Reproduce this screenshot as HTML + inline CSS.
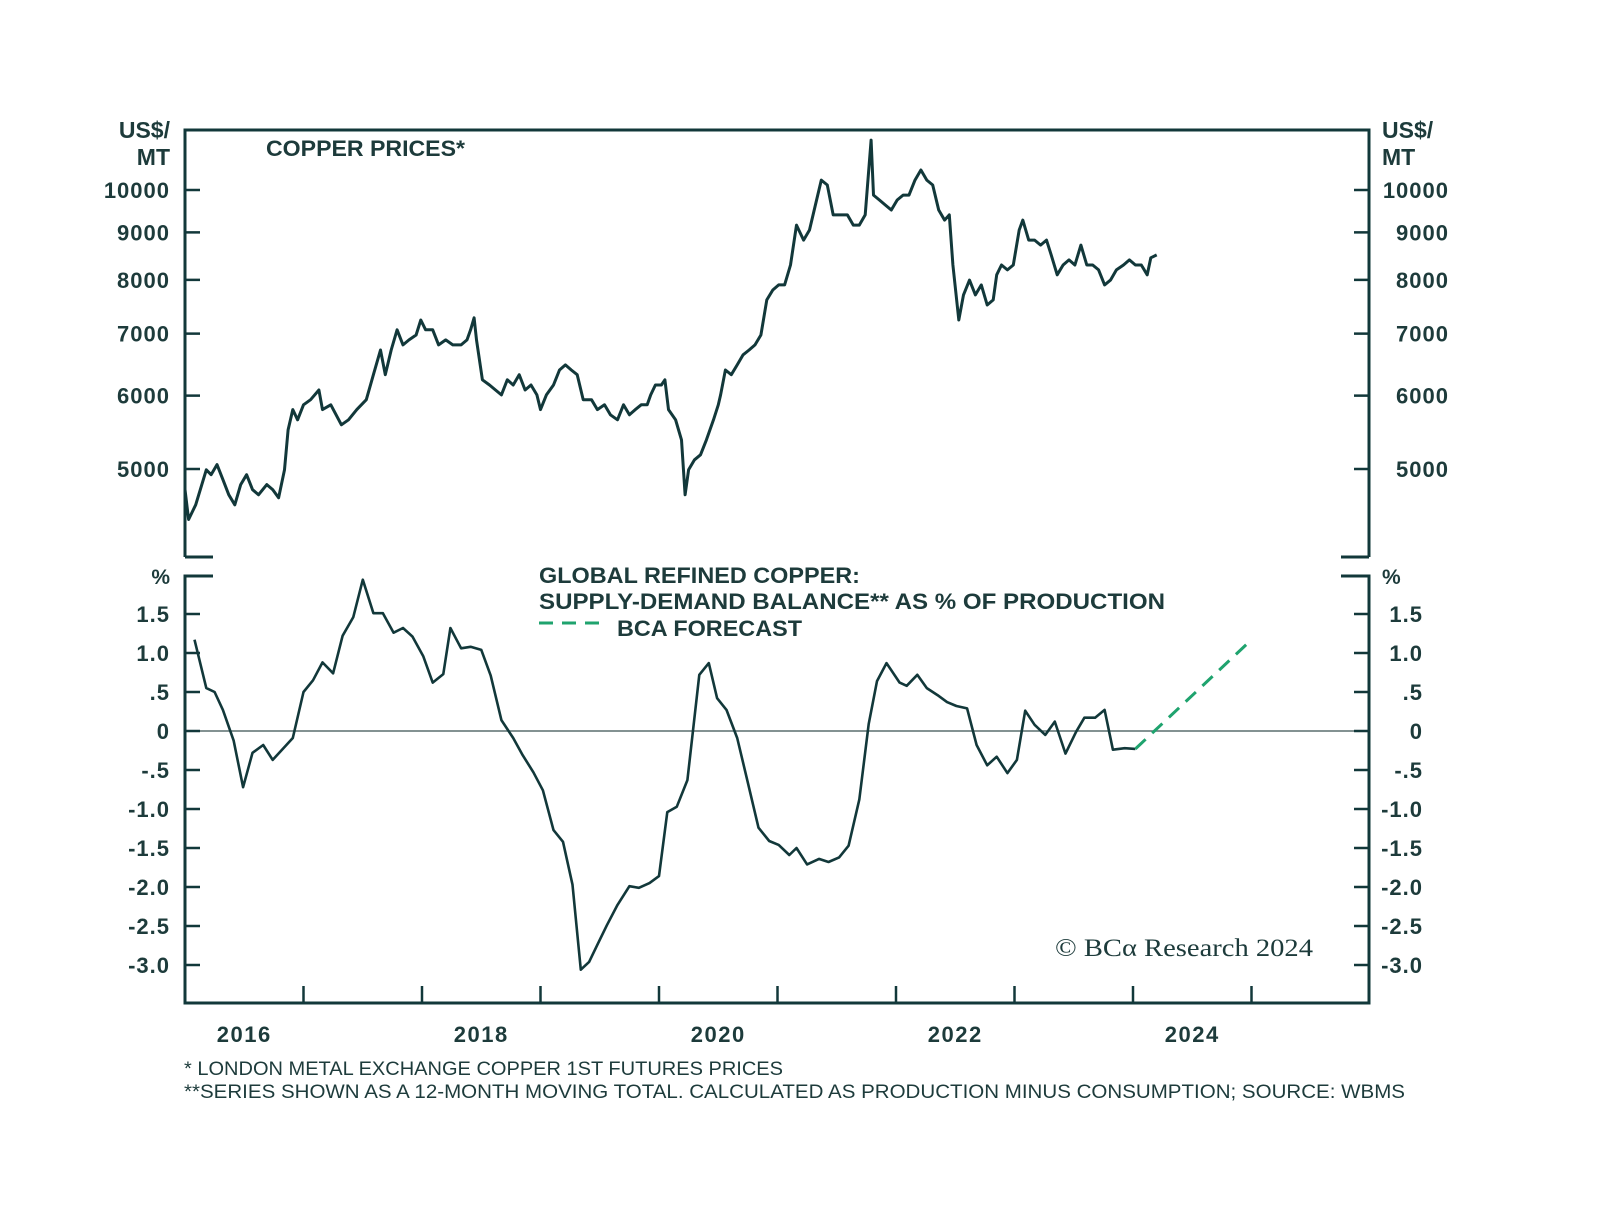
<!DOCTYPE html>
<html><head><meta charset="utf-8">
<style>
html,body{margin:0;padding:0;background:#fff;}
svg{display:block;}
text{font-family:"Liberation Sans",sans-serif;fill:#1d3b3b;font-weight:bold;}
</style></head>
<body>
<svg id="chart" width="1600" height="1232" viewBox="0 0 1600 1232" xmlns="http://www.w3.org/2000/svg">
<g id="frame"></g>
<g id="axes"></g>
<g id="series"></g>
<text x="266" y="156" font-size="22" textLength="199" lengthAdjust="spacingAndGlyphs">COPPER PRICES*</text>
<text x="170" y="138" font-size="23" text-anchor="end">US$/</text>
<text x="170" y="165" font-size="23" text-anchor="end">MT</text>
<text x="1382" y="138" font-size="23">US$/</text>
<text x="1382" y="165" font-size="23">MT</text>
<text x="170" y="584" font-size="21" text-anchor="end">%</text>
<text x="1382" y="584" font-size="21">%</text>
<text x="539" y="583" font-size="22" textLength="321" lengthAdjust="spacingAndGlyphs">GLOBAL REFINED COPPER:</text>
<text x="539" y="609" font-size="22" textLength="626" lengthAdjust="spacingAndGlyphs">SUPPLY-DEMAND BALANCE** AS % OF PRODUCTION</text>
<line x1="539" y1="623" x2="608" y2="623" stroke="#1fa36e" stroke-width="3" stroke-dasharray="14,9"/>
<text x="617" y="636" font-size="22" textLength="185" lengthAdjust="spacingAndGlyphs">BCA FORECAST</text>
<text x="1055" y="956" font-size="25" textLength="258" lengthAdjust="spacingAndGlyphs" style="font-family:'Liberation Serif',serif;font-weight:normal">© BCα Research 2024</text>
<text x="184" y="1075" font-size="19" textLength="599" lengthAdjust="spacingAndGlyphs" style="font-weight:normal">* LONDON METAL EXCHANGE COPPER 1ST FUTURES PRICES</text>
<text x="184" y="1098" font-size="19" textLength="1221" lengthAdjust="spacingAndGlyphs" style="font-weight:normal">**SERIES SHOWN AS A 12-MONTH MOVING TOTAL. CALCULATED AS PRODUCTION MINUS CONSUMPTION; SOURCE: WBMS</text>
</svg>
<script>
const priceDates=[2016.00,2016.03,2016.09,2016.18,2016.22,2016.27,2016.32,2016.37,2016.42,2016.47,2016.52,2016.57,2016.62,2016.69,2016.74,2016.79,2016.84,2016.87,2016.91,2016.95,2017.00,2017.06,2017.13,2017.16,2017.23,2017.32,2017.38,2017.45,2017.53,2017.59,2017.65,2017.69,2017.74,2017.79,2017.84,2017.89,2017.95,2017.99,2018.03,2018.09,2018.14,2018.20,2018.26,2018.33,2018.38,2018.41,2018.44,2018.46,2018.51,2018.57,2018.62,2018.67,2018.72,2018.77,2018.82,2018.87,2018.92,2018.97,2019.00,2019.05,2019.11,2019.16,2019.21,2019.26,2019.31,2019.36,2019.43,2019.48,2019.54,2019.59,2019.65,2019.70,2019.75,2019.80,2019.85,2019.90,2019.93,2019.97,2020.02,2020.05,2020.08,2020.14,2020.19,2020.22,2020.25,2020.30,2020.35,2020.40,2020.46,2020.50,2020.52,2020.56,2020.61,2020.66,2020.71,2020.76,2020.81,2020.86,2020.91,2020.96,2021.01,2021.06,2021.11,2021.16,2021.22,2021.27,2021.32,2021.37,2021.42,2021.47,2021.54,2021.59,2021.64,2021.69,2021.74,2021.79,2021.81,2021.86,2021.91,2021.96,2022.01,2022.06,2022.11,2022.16,2022.21,2022.26,2022.31,2022.36,2022.41,2022.45,2022.48,2022.53,2022.57,2022.62,2022.67,2022.72,2022.77,2022.82,2022.85,2022.89,2022.94,2022.99,2023.04,2023.07,2023.12,2023.17,2023.22,2023.27,2023.31,2023.36,2023.41,2023.46,2023.51,2023.56,2023.61,2023.66,2023.71,2023.76,2023.81,2023.86,2023.92,2023.97,2024.02,2024.07,2024.12,2024.15,2024.20];
const priceValues=[4750,4410,4575,4990,4930,5055,4870,4690,4575,4810,4930,4750,4690,4810,4750,4655,4990,5510,5795,5650,5865,5940,6085,5795,5865,5580,5650,5795,5940,6320,6720,6320,6720,7065,6805,6890,6975,7240,7065,7065,6805,6890,6805,6805,6890,7065,7280,6890,6240,6160,6085,6010,6240,6160,6320,6085,6160,6010,5795,6010,6160,6395,6475,6395,6320,5940,5940,5795,5865,5720,5650,5865,5720,5795,5865,5865,6010,6160,6160,6240,5795,5650,5375,4690,4990,5115,5180,5375,5650,5865,6010,6395,6320,6475,6640,6720,6805,6975,7610,7800,7900,7900,8300,9165,8830,9055,9635,10250,10125,9400,9400,9400,9165,9165,9400,11320,9875,9755,9635,9515,9755,9875,9875,10250,10510,10250,10125,9515,9280,9400,8300,7240,7705,7995,7705,7900,7515,7610,8100,8300,8200,8300,9055,9280,8830,8830,8720,8830,8510,8100,8300,8405,8300,8720,8300,8300,8200,7900,7995,8200,8300,8405,8300,8300,8100,8450,8510];
const balDates=[2016.08,2016.18,2016.25,2016.32,2016.41,2016.49,2016.57,2016.66,2016.74,2016.83,2016.91,2017.00,2017.08,2017.16,2017.25,2017.33,2017.42,2017.50,2017.59,2017.67,2017.76,2017.84,2017.92,2018.01,2018.09,2018.18,2018.24,2018.33,2018.41,2018.50,2018.58,2018.67,2018.77,2018.85,2018.94,2019.02,2019.11,2019.19,2019.27,2019.34,2019.41,2019.48,2019.56,2019.65,2019.75,2019.83,2019.92,2020.00,2020.07,2020.15,2020.24,2020.34,2020.42,2020.49,2020.57,2020.66,2020.74,2020.84,2020.93,2021.01,2021.10,2021.16,2021.25,2021.35,2021.43,2021.52,2021.60,2021.69,2021.77,2021.84,2021.92,2022.03,2022.09,2022.18,2022.26,2022.35,2022.43,2022.51,2022.60,2022.68,2022.77,2022.85,2022.94,2023.02,2023.09,2023.17,2023.26,2023.34,2023.43,2023.52,2023.59,2023.68,2023.76,2023.83,2023.93,2024.02];
const balValues=[1.17,0.55,0.50,0.27,-0.12,-0.72,-0.28,-0.18,-0.37,-0.22,-0.09,0.50,0.65,0.88,0.74,1.22,1.46,1.94,1.51,1.51,1.26,1.32,1.21,0.96,0.62,0.73,1.32,1.06,1.08,1.04,0.71,0.14,-0.09,-0.31,-0.53,-0.76,-1.27,-1.42,-1.97,-3.06,-2.96,-2.74,-2.49,-2.23,-1.99,-2.01,-1.95,-1.86,-1.04,-0.97,-0.63,0.72,0.87,0.42,0.27,-0.09,-0.60,-1.24,-1.41,-1.46,-1.59,-1.50,-1.71,-1.64,-1.68,-1.62,-1.47,-0.88,0.09,0.64,0.87,0.62,0.58,0.72,0.55,0.46,0.37,0.32,0.29,-0.18,-0.44,-0.33,-0.54,-0.37,0.26,0.08,-0.05,0.12,-0.29,-0.01,0.17,0.17,0.27,-0.24,-0.22,-0.23];
const forecastDates=[2024.02,2025.00];
const forecastValues=[-0.23,1.17];
const priceTicks=[5000,6000,7000,8000,9000,10000];
const balTicks=[1.5,1.0,0.5,0,-0.5,-1.0,-1.5,-2.0,-2.5,-3.0];
const balTickLabels=["1.5","1.0",".5","0","-.5","-1.0","-1.5","-2.0","-2.5","-3.0"];
const yearTicks=[2017,2018,2019,2020,2021,2022,2023,2024,2025];
const yearLabels=[2016,2018,2020,2022,2024];

const L=185,R=1369,TOP=130,UB=557,LT=576,BOT=1003;
const C="#12383a";
const X=t=>L+(t-2016)*118.5;
const YP=v=>190-Math.log2(v/10000)*279;
const YB=v=>731-v*78;
const NS="http://www.w3.org/2000/svg";
function mk(tag,attrs,parent){const e=document.createElementNS(NS,tag);for(const k in attrs)e.setAttribute(k,attrs[k]);document.getElementById(parent).appendChild(e);return e;}

let e;
e=mk('path',{d:`M${L},${UB} V${TOP} H${R} V${UB}`,fill:'none',stroke:C,'stroke-width':3},'frame');


e=mk('path',{d:`M${L+28},${UB} H${L} M${R-28},${UB} H${R}`,fill:'none',stroke:C,'stroke-width':3},'frame');


e=mk('path',{d:`M${L+28},${LT} H${L} V${BOT} H${R} V${LT} H${R-28}`,fill:'none',stroke:C,'stroke-width':3},'frame');


e=mk('line',{x1:L,x2:R,y1:YB(0),y2:YB(0),stroke:'#5a6e6e','stroke-width':1.5},'frame');



priceTicks.forEach(v=>{
  const y=YP(v);
  e=mk('path',{d:`M${L},${y} h15 M${R},${y} h-15`,stroke:C,'stroke-width':2.5},'axes');
  
  
  e=mk('text',{x:170,y:y+8,'font-size':22,'letter-spacing':1,'text-anchor':'end'},'axes');e.textContent=v;
  
  
  e=mk('text',{x:1449,y:y+8,'font-size':22,'letter-spacing':1,'text-anchor':'end'},'axes');e.textContent=v;
  
  
});
balTicks.forEach((v,i)=>{
  const y=YB(v);
  e=mk('path',{d:`M${L},${y} h15 M${R},${y} h-15`,stroke:C,'stroke-width':2.5},'axes');
  
  
  e=mk('text',{x:170,y:y+8,'font-size':22,'letter-spacing':1,'text-anchor':'end'},'axes');e.textContent=balTickLabels[i];
  
  
  e=mk('text',{x:1423,y:y+8,'font-size':22,'letter-spacing':1,'text-anchor':'end'},'axes');e.textContent=balTickLabels[i];
  
  
});
yearTicks.forEach(t=>{
  e=mk('line',{x1:X(t),x2:X(t),y1:BOT,y2:BOT-17,stroke:C,'stroke-width':2.5},'axes');
  
  
});
yearLabels.forEach(t=>{
  e=mk('text',{x:X(t+0.5),y:1042,'font-size':22,'letter-spacing':1.5,'text-anchor':'middle'},'axes');e.textContent=t;
  
  
});

const pd=priceDates.map((t,i)=>(i?'L':'M')+X(t).toFixed(1)+','+YP(priceValues[i]).toFixed(1)).join(' ');
e=mk('path',{d:pd,fill:'none',stroke:C,'stroke-width':3,'stroke-linejoin':'round'},'series');


const bd=balDates.map((t,i)=>(i?'L':'M')+X(t).toFixed(1)+','+YB(balValues[i]).toFixed(1)).join(' ');
e=mk('path',{d:bd,fill:'none',stroke:C,'stroke-width':2.6,'stroke-linejoin':'round'},'series');


const fd=forecastDates.map((t,i)=>(i?'L':'M')+X(t).toFixed(1)+','+YB(forecastValues[i]).toFixed(1)).join(' ');
e=mk('path',{d:fd,fill:'none',stroke:'#1fa36e','stroke-width':3,'stroke-dasharray':'14,9'},'series');


</script>
</body></html>
